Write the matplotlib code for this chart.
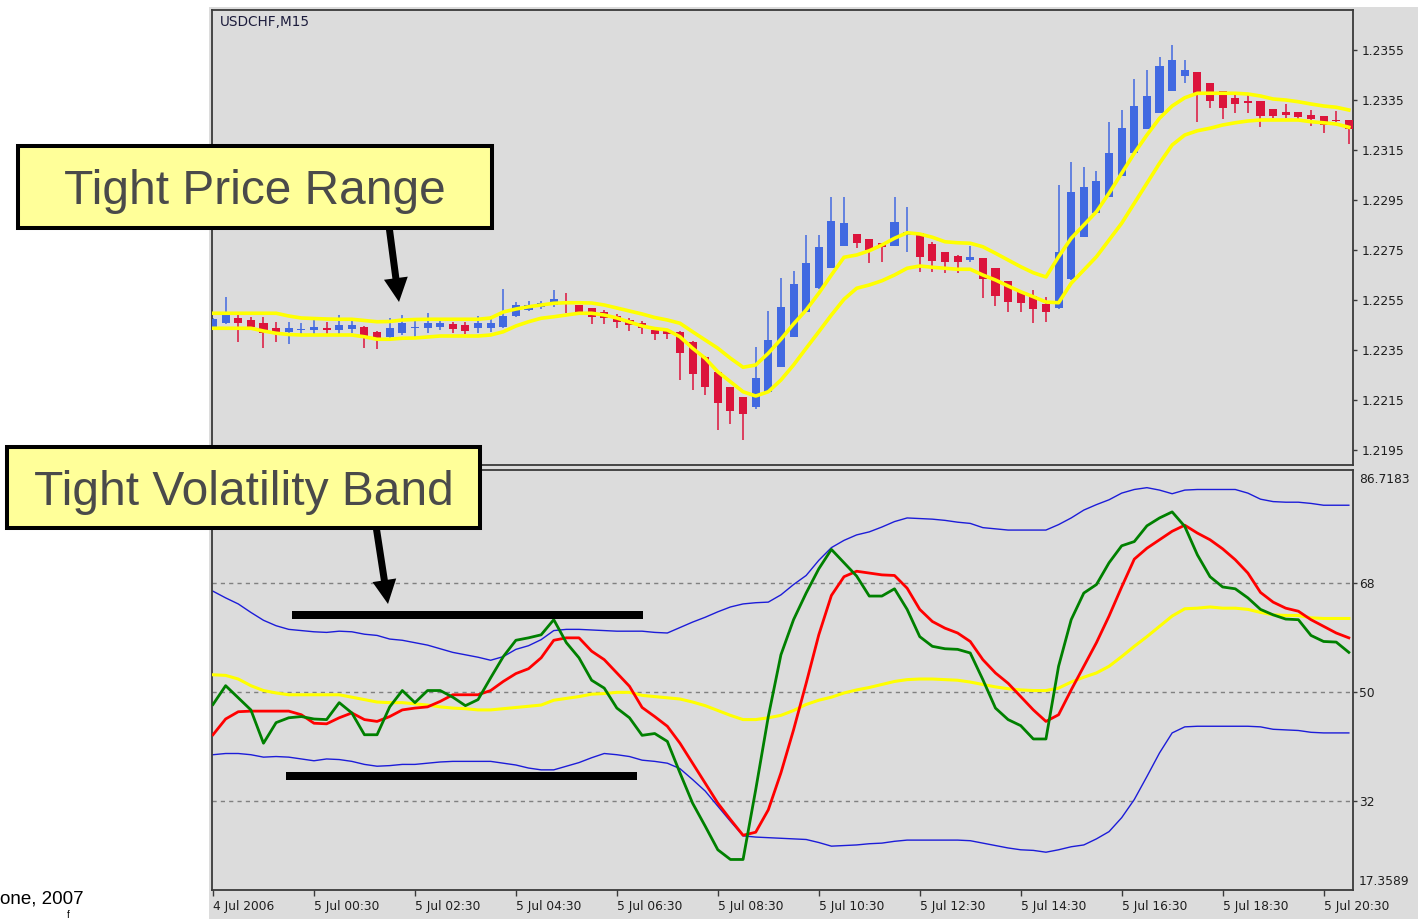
import matplotlib
matplotlib.use('Agg')
import matplotlib.pyplot as plt
from matplotlib.patches import Rectangle, Polygon
import numpy as np

# ---------------- data ----------------
time_labels = ["4 Jul 2006", "5 Jul 00:30", "5 Jul 02:30", "5 Jul 04:30", "5 Jul 06:30",
               "5 Jul 08:30", "5 Jul 10:30", "5 Jul 12:30", "5 Jul 14:30", "5 Jul 16:30",
               "5 Jul 18:30", "5 Jul 20:30"]
time_label_bars = [0, 8, 16, 24, 32, 40, 48, 56, 64, 72, 80, 88]

price_ticks = [1.2195, 1.2215, 1.2235, 1.2255, 1.2275, 1.2295, 1.2315, 1.2335, 1.2355]
tdi_ticks = [32, 50, 68]
tdi_min, tdi_max = 17.3589, 86.7183

opens = [1.22443, 1.22457, 1.22477, 1.2247, 1.22459, 1.22437, 1.22423, 1.2243, 1.2243, 1.22437,
         1.2243, 1.22433, 1.22443, 1.22423, 1.22401, 1.22419, 1.22437, 1.22437, 1.22441, 1.22453,
         1.2245, 1.22437, 1.22437, 1.22443, 1.22486, 1.2251, 1.22523, 1.2253, 1.22541, 1.2253,
         1.22517, 1.22502, 1.22486, 1.2247, 1.22458, 1.2243, 1.2243, 1.22423, 1.22383, 1.22323,
         1.22263, 1.22201, 1.22161, 1.22123, 1.22183, 1.22283, 1.22403, 1.22503, 1.22597, 1.22679,
         1.22767, 1.22814, 1.22795, 1.22779, 1.22767, 1.2281, 1.22819, 1.22773, 1.22743, 1.22726,
         1.2271, 1.22719, 1.22677, 1.22626, 1.22583, 1.22566, 1.22534, 1.22517, 1.22633, 1.22803,
         1.22899, 1.22963, 1.23046, 1.23139, 1.23234, 1.23299, 1.23387, 1.23446, 1.23463, 1.23417,
         1.23386, 1.23357, 1.23346, 1.23346, 1.23314, 1.23303, 1.23303, 1.2329, 1.23286, 1.2327,
         1.2327]
highs = [1.22478, 1.22561, 1.2249, 1.22483, 1.22483, 1.22463, 1.22463, 1.22459, 1.2247, 1.22463,
         1.2249, 1.2247, 1.22446, 1.22426, 1.22477, 1.2249, 1.22467, 1.22499, 1.2247, 1.22463,
         1.22463, 1.22486, 1.22486, 1.22593, 1.22543, 1.22547, 1.22547, 1.2259, 1.22577, 1.2253,
         1.22518, 1.2251, 1.22494, 1.22478, 1.22466, 1.22438, 1.22434, 1.22426, 1.22386, 1.22326,
         1.22266, 1.22202, 1.22162, 1.22361, 1.22507, 1.22637, 1.22667, 1.2281, 1.2281, 1.22961,
         1.22961, 1.22814, 1.22796, 1.2278, 1.22961, 1.22921, 1.2282, 1.22783, 1.22744, 1.2273,
         1.22766, 1.2272, 1.22678, 1.22626, 1.22584, 1.2259, 1.22563, 1.2301, 1.23103, 1.23081,
         1.23067, 1.23263, 1.2331, 1.23433, 1.2347, 1.23523, 1.2357, 1.2351, 1.23464, 1.23418,
         1.23386, 1.2337, 1.2337, 1.23346, 1.23314, 1.23334, 1.23304, 1.2331, 1.23286, 1.23306,
         1.2327]
lows = [1.22438, 1.22454, 1.22383, 1.22437, 1.22357, 1.22383, 1.22374, 1.2241, 1.2241, 1.2241,
        1.2241, 1.22417, 1.22357, 1.22353, 1.22397, 1.2241, 1.22403, 1.22417, 1.2243, 1.22417,
        1.22414, 1.22417, 1.22423, 1.22437, 1.22483, 1.22507, 1.22513, 1.22523, 1.22497, 1.22497,
        1.22454, 1.22454, 1.22438, 1.22426, 1.22414, 1.2239, 1.22393, 1.2223, 1.2219, 1.2217,
        1.2203, 1.22054, 1.2199, 1.22113, 1.22177, 1.22282, 1.22402, 1.22502, 1.22596, 1.22678,
        1.22766, 1.22757, 1.22697, 1.22703, 1.22766, 1.22743, 1.22663, 1.22661, 1.22657, 1.22659,
        1.22703, 1.22557, 1.22526, 1.22503, 1.22503, 1.22457, 1.22461, 1.22516, 1.22632, 1.22802,
        1.22898, 1.22962, 1.23046, 1.23138, 1.23234, 1.23298, 1.23386, 1.23417, 1.23263, 1.23317,
        1.23273, 1.23299, 1.23299, 1.23243, 1.23277, 1.23277, 1.23273, 1.23246, 1.23217, 1.23263,
        1.23174]
closes = [1.22473, 1.22497, 1.22457, 1.22443, 1.22419, 1.22419, 1.22437, 1.22434, 1.22442, 1.2243,
          1.2245, 1.2245, 1.22403, 1.22393, 1.22437, 1.22459, 1.22441, 1.22457, 1.22457, 1.22433,
          1.22427, 1.22457, 1.22459, 1.22486, 1.2253, 1.2253, 1.22537, 1.22553, 1.22534, 1.22497,
          1.22483, 1.22478, 1.22462, 1.2245, 1.22438, 1.22414, 1.22414, 1.22337, 1.22254, 1.22201,
          1.22137, 1.22107, 1.22094, 1.22237, 1.2239, 1.22523, 1.22614, 1.22697, 1.22761, 1.22867,
          1.22857, 1.22779, 1.2275, 1.22763, 1.22861, 1.22823, 1.22721, 1.22707, 1.22703, 1.22703,
          1.22723, 1.22633, 1.22567, 1.22543, 1.22539, 1.22514, 1.22503, 1.22743, 1.22983, 1.23003,
          1.23026, 1.23137, 1.23239, 1.23326, 1.23367, 1.23486, 1.2351, 1.2347, 1.23377, 1.23346,
          1.23317, 1.23334, 1.23337, 1.23286, 1.23286, 1.2329, 1.23281, 1.23273, 1.2325, 1.23266,
          1.23233]

ma_upper = [1.22497, 1.22497, 1.22497, 1.22497, 1.22497, 1.22497, 1.22486, 1.22478, 1.22476, 1.22474,
            1.22473, 1.22473, 1.22468, 1.22463, 1.22464, 1.2247, 1.22472, 1.22473, 1.22473, 1.22473,
            1.22473, 1.22473, 1.22478, 1.22502, 1.22514, 1.22523, 1.2253, 1.22537, 1.22539, 1.22539,
            1.22538, 1.2253, 1.22518, 1.22506, 1.22494, 1.2248, 1.2247, 1.22457, 1.22423, 1.2239,
            1.22357, 1.22317, 1.22281, 1.2229, 1.22337, 1.22393, 1.22454, 1.2251, 1.22577, 1.2265,
            1.22721, 1.2273, 1.22747, 1.2277, 1.22797, 1.22819, 1.22814, 1.22801, 1.22783, 1.22779,
            1.22777, 1.22763, 1.22737, 1.2271, 1.22683, 1.22659, 1.22642, 1.22723, 1.22797, 1.2285,
            1.22903, 1.22977, 1.23057, 1.23137, 1.2321, 1.23277, 1.23326, 1.23359, 1.23377, 1.23377,
            1.23377, 1.23377, 1.23374, 1.23366, 1.23354, 1.2335, 1.23343, 1.23334, 1.23326, 1.23321,
            1.2331]
ma_lower = [1.22437, 1.22437, 1.22437, 1.22437, 1.22426, 1.22417, 1.22412, 1.2241, 1.2241, 1.2241,
            1.2241, 1.2241, 1.22403, 1.22393, 1.22393, 1.22397, 1.22398, 1.22402, 1.22406, 1.22406,
            1.22406, 1.22406, 1.2241, 1.22423, 1.22446, 1.22463, 1.22477, 1.22483, 1.2249, 1.22497,
            1.22497, 1.2249, 1.22478, 1.22462, 1.22446, 1.22436, 1.2243, 1.22403, 1.22357, 1.22317,
            1.22263, 1.22223, 1.22183, 1.22166, 1.22183, 1.2223, 1.2229, 1.22357, 1.22423, 1.2249,
            1.22553, 1.22597, 1.2261, 1.22627, 1.2265, 1.22677, 1.22686, 1.22681, 1.22677, 1.22673,
            1.22673, 1.2265, 1.2263, 1.22606, 1.22583, 1.22563, 1.22542, 1.22539, 1.22617, 1.2267,
            1.22723, 1.2279, 1.22857, 1.22937, 1.23017, 1.23097, 1.2317, 1.2321, 1.23227, 1.23237,
            1.2325, 1.23259, 1.23266, 1.2327, 1.2327, 1.2327, 1.2327, 1.23263, 1.23259, 1.23254,
            1.23241]

tdi_green = [48.0, 51.1, 49.1, 47.1, 41.6, 45.0, 45.8, 46.0, 45.6, 45.5,
             48.3, 46.6, 43.0, 43.0, 47.6, 50.3, 48.3, 50.3, 50.3, 49.2,
             47.8, 48.8, 52.4, 55.9, 58.6, 59.0, 59.5, 62.0, 58.2, 55.7,
             52.0, 50.7, 47.4, 45.8, 42.9, 43.2, 41.9, 36.7, 31.7, 27.9,
             24.0, 22.4, 22.4, 33.9, 46.0, 56.2, 62.0, 66.4, 70.4, 73.6,
             71.4, 69.2, 65.9, 65.9, 67.1, 63.7, 59.2, 57.6, 57.2, 57.1,
             56.5, 52.1, 47.4, 45.5, 44.5, 42.3, 42.3, 54.3, 62.0, 66.4,
             67.8, 71.4, 74.2, 74.9, 77.5, 78.8, 79.8, 77.4, 72.7, 69.1,
             67.4, 67.1, 65.6, 63.7, 62.8, 62.1, 62.0, 59.4, 58.4, 58.3,
             56.6]
tdi_red = [43.0, 45.6, 46.8, 46.9, 46.9, 46.9, 46.9, 46.3, 44.9, 44.8,
           45.8, 46.6, 45.5, 45.2, 46.0, 47.1, 47.4, 47.6, 48.5, 49.6,
           49.6, 49.6, 50.3, 51.8, 53.1, 53.9, 55.7, 58.6, 59.0, 59.0,
           56.8, 55.4, 53.2, 51.0, 47.5, 46.0, 44.4, 41.6, 38.3, 35.0,
           31.7, 29.0, 26.4, 26.9, 30.6, 36.7, 43.8, 51.5, 59.5, 66.0,
           69.1, 70.0, 69.7, 69.4, 69.3, 67.2, 63.7, 61.7, 60.6, 59.8,
           58.4, 55.4, 53.2, 51.5, 49.3, 47.1, 45.2, 46.3, 50.4, 54.3,
           58.2, 62.6, 67.4, 72.0, 73.8, 75.2, 76.6, 77.6, 76.3, 75.2,
           73.7, 71.9, 69.7, 66.5, 64.9, 63.9, 63.4, 62.0, 60.9, 59.8,
           59.0]
tdi_yellow = [52.9, 52.8, 52.2, 51.1, 50.3, 49.9, 49.6, 49.6, 49.6, 49.6,
              49.6, 49.2, 48.8, 48.4, 48.3, 48.3, 48.1, 47.9, 47.6, 47.4,
              47.3, 47.1, 47.1, 47.3, 47.5, 47.7, 47.9, 48.7, 49.0, 49.3,
              49.7, 49.8, 50.0, 50.0, 49.5, 49.3, 49.1, 48.9, 48.4, 47.8,
              47.0, 46.2, 45.5, 45.5, 45.8, 46.2, 47.0, 48.0, 48.7, 49.2,
              49.9, 50.4, 50.8, 51.3, 51.8, 52.1, 52.2, 52.2, 52.1, 52.0,
              51.7, 51.3, 50.9, 50.6, 50.4, 50.3, 50.3, 50.7, 51.7, 52.5,
              53.2, 54.3, 55.9, 57.6, 59.2, 60.9, 62.6, 63.8, 63.9, 64.1,
              63.9, 63.9, 63.7, 63.2, 62.8, 62.7, 62.7, 62.3, 62.2, 62.2,
              62.2]
band_up = [66.7, 65.6, 64.6, 63.2, 61.9, 61.0, 60.4, 60.2, 60.0, 59.9,
           60.1, 60.0, 59.6, 59.4, 58.8, 58.6, 58.2, 57.8, 57.2, 56.6,
           56.2, 55.8, 55.3, 55.9, 57.1, 57.7, 58.7, 60.2, 60.4, 60.4,
           60.3, 60.2, 60.1, 60.1, 60.1, 59.9, 59.8, 60.7, 61.6, 62.4,
           63.3, 64.1, 64.6, 64.8, 64.9, 66.1, 67.8, 69.3, 71.8, 73.9,
           75.1, 76.0, 76.5, 77.3, 78.2, 78.8, 78.7, 78.6, 78.4, 78.1,
           77.9, 77.2, 77.0, 76.8, 76.8, 76.8, 76.8, 77.7, 78.8, 80.1,
           81.0, 81.8, 82.9, 83.5, 83.8, 83.4, 82.8, 83.4, 83.5, 83.5,
           83.5, 83.5, 82.9, 81.9, 81.5, 81.4, 81.4, 81.2, 80.9, 80.9,
           80.9]
band_dn = [39.7, 39.9, 39.9, 39.7, 39.3, 39.4, 39.3, 39.0, 38.7, 39.0,
           38.9, 38.6, 38.1, 37.8, 37.9, 38.1, 38.1, 38.3, 38.5, 38.6,
           38.6, 38.6, 38.6, 38.3, 38.0, 37.5, 37.2, 37.2, 37.8, 38.4,
           39.2, 39.9, 39.7, 39.4, 38.8, 38.6, 38.3, 37.4, 35.6, 33.7,
           31.2, 28.7, 26.3, 26.1, 26.0, 25.9, 25.8, 25.7, 25.2, 24.6,
           24.7, 24.8, 25.0, 25.1, 25.4, 25.6, 25.6, 25.6, 25.6, 25.6,
           25.5, 25.1, 24.7, 24.3, 24.0, 23.9, 23.6, 24.0, 24.5, 24.8,
           25.8, 27.0, 29.3, 32.3, 36.1, 40.0, 43.3, 44.3, 44.4, 44.4,
           44.4, 44.4, 44.4, 44.3, 43.9, 43.8, 43.7, 43.4, 43.3, 43.3,
           43.3]

# ---------------- styling ----------------
W, H = 1418, 919
GRAY = '#dcdcdc'
BLUE_C = '#4169e1'
RED_C = '#dc143c'
TXT = '#1e1e1e'

fig = plt.figure(figsize=(W / 100, H / 100), dpi=100)
fig.patch.set_facecolor('white')


def fxy(x, y):
    return (x / W, 1 - y / H)


fig.add_artist(Rectangle(fxy(209, 919), (W - 209) / W, (919 - 7) / H,
                         transform=fig.transFigure, facecolor=GRAY,
                         edgecolor='none', zorder=-10))

ax1 = fig.add_axes([212 / W, 1 - 465 / H, (1353 - 212) / W, (465 - 10) / H])
ax2 = fig.add_axes([212 / W, 1 - 890 / H, (1353 - 212) / W, (890 - 470) / H])

idx = np.arange(len(opens))
o = np.array(opens); h = np.array(highs); l = np.array(lows); c = np.array(closes)
cols = np.where(c >= o, BLUE_C, RED_C)

for ax in (ax1, ax2):
    ax.set_facecolor(GRAY)
    ax.set_xlim(-0.08, 90.33)
    for s in ax.spines.values():
        s.set_color('#3a3a3a')
        s.set_linewidth(1.3)

# --- price panel ---
ax1.vlines(idx, l, h, colors=cols, lw=1.1, zorder=2)
ax1.bar(idx, np.maximum(np.abs(c - o), 0.00003), bottom=np.minimum(o, c),
        width=0.64, color=cols, edgecolor='none', zorder=3)
ax1.plot(idx, ma_upper, color='#ffff00', lw=2.6, zorder=4)
ax1.plot(idx, ma_lower, color='#ffff00', lw=2.6, zorder=4)
ax1.set_ylim(1.2189, 1.2371)
ax1.set_xticks([])
ax1.yaxis.tick_right()
ax1.set_yticks(price_ticks)
ax1.set_yticklabels([f'{v:.4f}' for v in price_ticks])
ax1.tick_params(axis='y', direction='out', length=3, width=1, pad=3.6,
                labelsize=8.8, colors='#3a3a3a', labelcolor=TXT)
fig.text(220 / W, 1 - 22.5 / H, 'USDCHF,M15', fontsize=9.8, color='#1c1c3c',
         va='center', ha='left')

# --- TDI panel ---
for v in tdi_ticks:
    ax2.axhline(v, color='#808080', lw=1.0, ls=(0, (3, 3)), zorder=1)
ax2.plot(idx, band_up, color='#1c1cd8', lw=1.0, zorder=2)
ax2.plot(idx, band_dn, color='#1c1cd8', lw=1.0, zorder=2)
ax2.plot(idx, tdi_yellow, color='#ffff00', lw=2.2, zorder=3)
ax2.plot(idx, tdi_red, color='#ff0000', lw=2.0, zorder=4)
ax2.plot(idx, tdi_green, color='#008000', lw=2.0, zorder=5)
ax2.set_ylim(tdi_min, tdi_max)
ax2.yaxis.tick_right()
ax2.set_yticks(tdi_ticks)
ax2.set_yticklabels([str(v) for v in tdi_ticks])
ax2.tick_params(axis='y', direction='out', length=3, width=1, pad=1.2,
                labelsize=8.8, colors='#3a3a3a', labelcolor=TXT)
ax2.set_xticks(time_label_bars)
ax2.set_xticklabels(time_labels)
for lb in ax2.get_xticklabels():
    lb.set_ha('left')
ax2.tick_params(axis='x', direction='out', length=4, width=1, pad=3.5,
                labelsize=8.8, colors='#3a3a3a', labelcolor=TXT)
ax2.annotate(f'{tdi_max:.4f}', xy=(1, 1), xycoords='axes fraction',
             xytext=(6, -3), textcoords='offset pixels', ha='left', va='top',
             fontsize=8.8, color=TXT)
ax2.annotate(f'{tdi_min:.4f}', xy=(1, 0), xycoords='axes fraction',
             xytext=(6, 2), textcoords='offset pixels', ha='left', va='bottom',
             fontsize=8.8, color=TXT)

# --- annotations (figure pixel coordinates) ---
def box(x0, y0, x1, y1, text, cx, base):
    fig.add_artist(Rectangle(fxy(x0, y1), (x1 - x0) / W, (y1 - y0) / H,
                             transform=fig.transFigure, facecolor='#ffff99',
                             edgecolor='black', lw=2.9, zorder=10))
    fig.text(cx / W, 1 - base / H, text, ha='center', va='baseline',
             fontsize=34.5, family='Liberation Sans', color='#4a4a4a', zorder=11)


def arrow(sx, sy, tx, ty, sw=7, hw=24, hl=24):
    s = np.array([sx, sy], float); t = np.array([tx, ty], float)
    u = (t - s) / np.linalg.norm(t - s)
    n = np.array([-u[1], u[0]])
    b = t - u * hl
    pts = [s + n * sw / 2, b + n * sw / 2, b + n * hw / 2, t,
           b - n * hw / 2, b - n * sw / 2, s - n * sw / 2]
    pts = [fxy(p[0], p[1]) for p in pts]
    fig.add_artist(Polygon(pts, closed=True, transform=fig.transFigure,
                           facecolor='black', edgecolor='none', zorder=9))


def hbar(x0, x1, y0, y1):
    fig.add_artist(Rectangle(fxy(x0, y1), (x1 - x0) / W, (y1 - y0) / H,
                             transform=fig.transFigure, facecolor='black',
                             edgecolor='none', zorder=9))


arrow(389, 226, 399, 302)
arrow(376, 526, 388, 604)
box(18, 146, 492, 228, 'Tight Price Range', 255, 203.5)
box(7, 447, 480, 528, 'Tight Volatility Band', 244, 505)
hbar(292, 643, 611, 619)
hbar(286, 637, 772, 780)

fig.text(0, 1 - 904 / H, 'one, 2007', fontsize=13.5, family='Liberation Sans',
         ha='left', va='baseline', color='black')
fig.text(67 / W, 1 - 918.5 / H, 'f', fontsize=7, family='Liberation Sans',
         ha='left', va='baseline', color='black')

fig.savefig('out.png', dpi=100, facecolor='white')
